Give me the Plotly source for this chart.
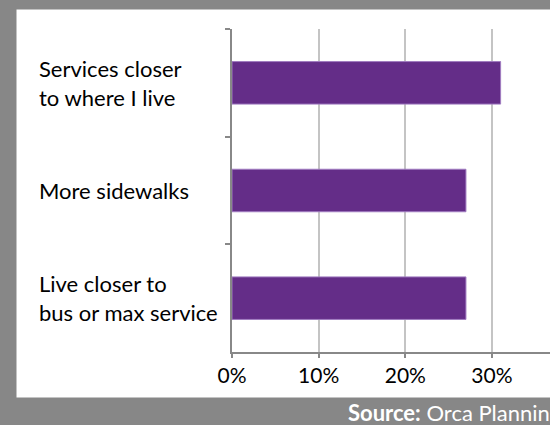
import plotly.graph_objects as go

categories = ["Services closer<br>to where I live", "More sidewalks", "Live closer to<br>bus or max service"]
values = [31, 27, 27]
x_ticks = [0, 10, 20, 30]
x_tick_labels = ["0%", "10%", "20%", "30%"]
source_text = "<b>Source:</b> Orca Planning"

FONT = "Lato"
W, H = 550, 425
L, R, T, B = 232, 0, 29, 73
pw, ph = W - L - R, H - T - B

def px2x(px):
    return (px - L) / pw

def py2y(py):
    return (H - B - py) / ph

fig = go.Figure()
fig.add_trace(go.Bar(
    y=categories, x=values, orientation="h",
    marker=dict(color="#642D88", line=dict(color="#A07CC0", width=1)),
    hoverinfo="skip",
))

# frame bands
gray = "#878787"
fig.add_shape(type="rect", xref="paper", yref="paper", x0=px2x(0), x1=px2x(W), y0=py2y(0), y1=py2y(9.5),
              fillcolor=gray, line=dict(width=0), layer="below")
fig.add_shape(type="rect", xref="paper", yref="paper", x0=px2x(0), x1=px2x(16.5), y0=py2y(0), y1=py2y(H),
              fillcolor=gray, line=dict(width=0), layer="below")
fig.add_shape(type="rect", xref="paper", yref="paper", x0=px2x(0), x1=px2x(W), y0=py2y(397.5), y1=py2y(H),
              fillcolor=gray, line=dict(width=0), layer="below")

for c in categories:
    fig.add_annotation(text=c, x=px2x(37), xref="paper", y=c, yref="y",
                       xanchor="left", yanchor="middle", align="left", showarrow=False,
                       font=dict(family=FONT, size=22, color="#000000"))

fig.add_annotation(text=source_text, x=px2x(346), xref="paper", y=py2y(412), yref="paper",
                   xanchor="left", yanchor="middle", showarrow=False,
                   font=dict(family=FONT, size=22, color="#FFFFFF"))

fig.update_layout(
    width=W, height=H,
    margin=dict(l=L, r=R, t=T, b=B, pad=0),
    paper_bgcolor="#FFFFFF", plot_bgcolor="#FFFFFF",
    showlegend=False, bargap=0.605,
    font=dict(family=FONT, size=21, color="#000000"),
    xaxis=dict(range=[0, 36.7], tickvals=x_ticks, ticktext=x_tick_labels,
               showgrid=True, gridcolor="#C4C4C4", gridwidth=2,
               showline=True, linecolor="#888888", linewidth=2,
               ticks="outside", ticklen=4, tickcolor="#888888", tickwidth=2,
               zeroline=False, fixedrange=True,
               tickfont=dict(family=FONT, size=21, color="#000000")),
    yaxis=dict(autorange="reversed", showticklabels=False, tickson="boundaries",
               showgrid=False, showline=True, linecolor="#888888", linewidth=2,
               ticks="outside", ticklen=5, tickcolor="#888888", tickwidth=2,
               zeroline=False, fixedrange=True),
)

fig.write_html("out.html", config={"displayModeBar": False},
               post_script="document.body.style.margin='0';document.body.style.overflow='hidden';")
